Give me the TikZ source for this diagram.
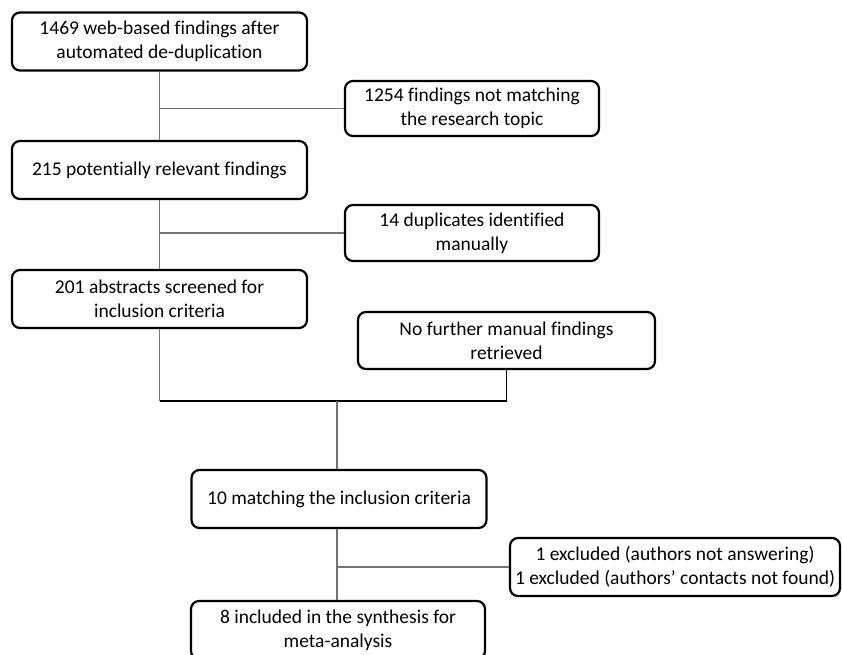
\documentclass[tikz,border=0pt]{standalone}
\usepackage{fontspec}
\setmainfont{Carlito}[Ligatures={NoCommon}]
\begin{document}
\begin{tikzpicture}[x=1pt,y=-1pt,
  box/.style={draw=black, line width=2.2pt, rounded corners=8pt, fill=white,
    align=center, inner sep=0pt, font=\fontsize{19.5}{24}\selectfont},
  conn/.style={draw=black!55, line width=1.4pt},
  connk/.style={draw=black, line width=1.4pt}]
\useasboundingbox (0,0) rectangle (842,654);
\node[box, minimum width=295pt, minimum height=58pt] (b1) at (159.5,41.5) {1469 web-based findings after\\automated de-duplication};
\node[box, minimum width=254pt, minimum height=55pt] (n1) at (472,108.5) {1254 findings not matching\\the research topic};
\node[box, minimum width=295pt, minimum height=58pt] (b2) at (159.5,170) {215 potentially relevant findings};
\node[box, minimum width=254pt, minimum height=56pt] (n2) at (472,233) {14 duplicates identified\\manually};
\node[box, minimum width=295pt, minimum height=58pt] (b3) at (159.5,299) {201 abstracts screened for\\inclusion criteria};
\node[box, minimum width=297pt, minimum height=57pt] (n3) at (506.5,340.5) {No further manual findings\\retrieved};
\coordinate (j) at (337,401);
\node[box, minimum width=295pt, minimum height=58pt] (b4) at (339,499) {10 matching the inclusion criteria};
\node[box, minimum width=330pt, minimum height=58pt] (n4) at (675,567) {1 excluded (authors not answering)\\1 excluded (authors’ contacts not found)};
\node[box, minimum width=294pt, minimum height=58pt] (b5) at (338,630) {8 included in the synthesis for\\meta-analysis};
\draw[conn] (b1.south) -- (b2.north);
\draw[conn] (b1.south |- n1.west) -- (n1.west);
\draw[conn] (b2.south) -- (b3.north);
\draw[conn] (b2.south |- n2.west) -- (n2.west);
\draw[conn] (b3.south) -- (b3.south |- j);
\draw[connk] (n3.south) -- (n3.south |- j);
\draw[connk] (b3.south |- j) -- (n3.south |- j);
\draw[conn] (j) -- (j |- b4.north);
\draw[conn] (j |- b4.south) -- (j |- b5.north);
\draw[conn] (j |- n4.west) -- (n4.west);
\end{tikzpicture}
\end{document}
